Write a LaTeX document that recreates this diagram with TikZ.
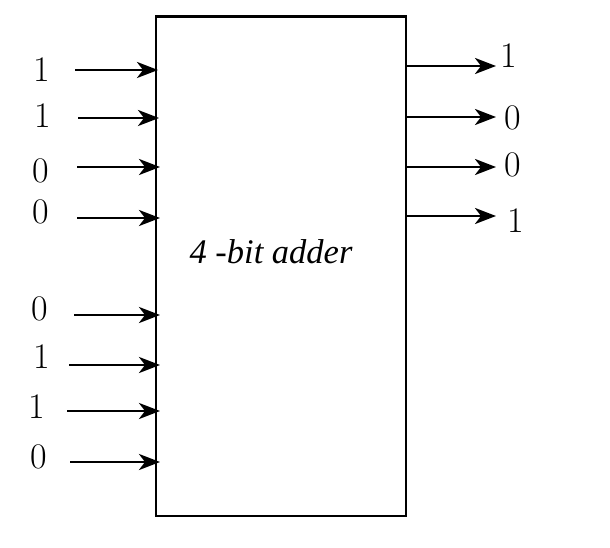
\documentclass[tikz,border=0pt]{standalone}
\usepackage{fontspec}
\newfontfamily\titlefont{Liberation Serif}
\usetikzlibrary{arrows.meta}
\begin{document}
\begin{tikzpicture}[x=1pt,y=-1pt,
  wire/.style={line width=2.8pt,-{Stealth[length=21pt,width=16pt,inset=6pt]}},
  bit/.style={anchor=base,inner sep=0pt,font=\fontsize{36}{40}\selectfont},
  blk/.style={draw,line width=2.8pt}]
\useasboundingbox (0,0) rectangle (610,548);
\draw[blk] (156,16.5) rectangle (406,516);
\node[anchor=base,inner sep=0pt,font=\titlefont\fontsize{34.5}{40}\selectfont\itshape] (title) at (271,263) {4 -bit adder};
% inputs
\node[bit] (i1) at (42,82) {1};
\node[bit] (i2) at (43,128) {1};
\node[bit] (i3) at (41,183) {0};
\node[bit] (i4) at (41,223) {0};
\node[bit] (i5) at (40,320) {0};
\node[bit] (i6) at (42,368) {1};
\node[bit] (i7) at (37,418) {1};
\node[bit] (i8) at (39,468) {0};
\coordinate (s1) at (75,70);  \coordinate (e1) at (158,70);
\coordinate (s2) at (78,118); \coordinate (e2) at (159,118);
\coordinate (s3) at (77,167); \coordinate (e3) at (160,167);
\coordinate (s4) at (77,218); \coordinate (e4) at (160,218);
\coordinate (s5) at (74,315); \coordinate (e5) at (160,315);
\coordinate (s6) at (69,365); \coordinate (e6) at (160,365);
\coordinate (s7) at (67,411); \coordinate (e7) at (160,411);
\coordinate (s8) at (70,462); \coordinate (e8) at (160,462);
\foreach \k in {1,...,8} {\draw[wire] (s\k) -- (e\k);}
% outputs
\node[bit] (o1) at (509,68) {1};
\node[bit] (o2) at (513,130) {0};
\node[bit] (o3) at (513,177) {0};
\node[bit] (o4) at (516,232) {1};
\coordinate (p1) at (406,66);  \coordinate (q1) at (496,66);
\coordinate (p2) at (406,117); \coordinate (q2) at (496,117);
\coordinate (p3) at (406,167); \coordinate (q3) at (496,167);
\coordinate (p4) at (406,216); \coordinate (q4) at (496,216);
\foreach \k in {1,...,4} {\draw[wire] (p\k) -- (q\k);}
\end{tikzpicture}
\end{document}
